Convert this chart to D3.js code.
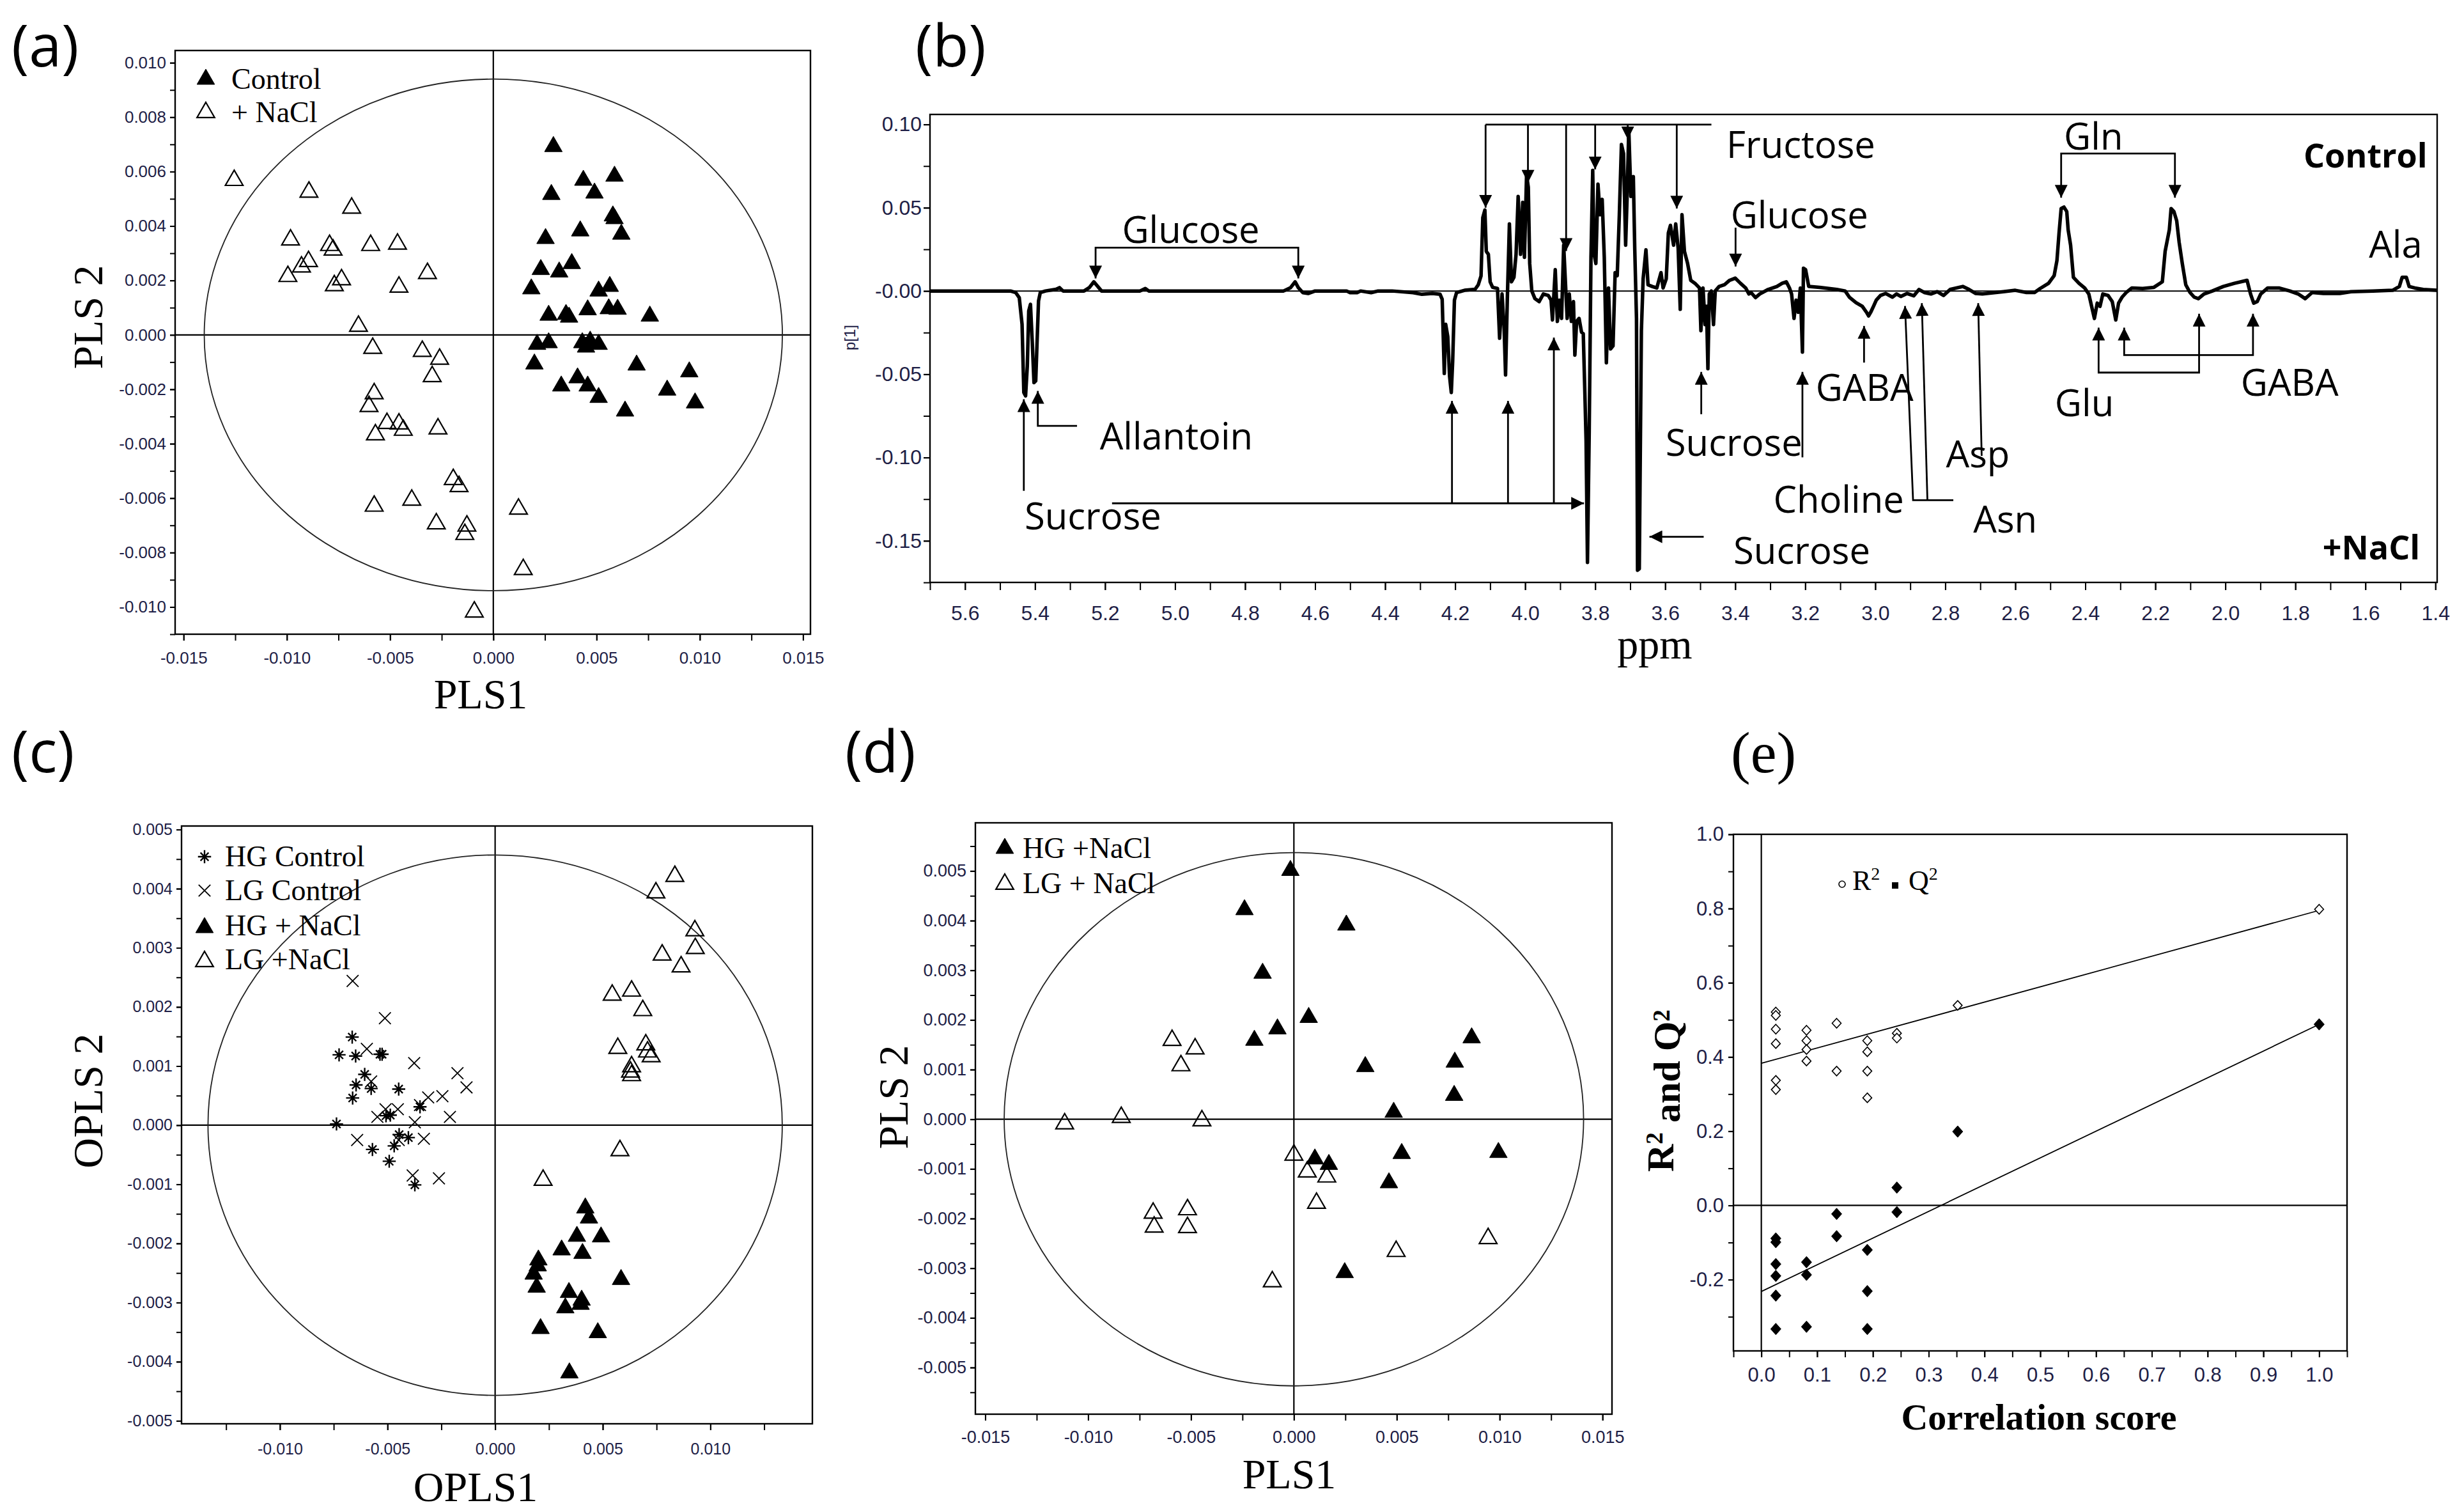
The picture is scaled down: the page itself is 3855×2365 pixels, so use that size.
<!DOCTYPE html>
<html>
<head>
<meta charset="utf-8">
<script src="https://cdn.jsdelivr.net/npm/d3@7"></script>
<style>
  body { margin: 0; background: #fff; }
  svg { display: block; }
</style>
</head>
<body>
<script>
'use strict';

/*
 * Data
 */

// (a) PLS scores
var aControl = [
  [0.00291, 0.00692], [0.00436, 0.00568], [0.00587, 0.00583], [0.00281, 0.00516], [0.0049, 0.00521],
  [0.00579, 0.00437], [0.00587, 0.00427], [0.00421, 0.00382], [0.0062, 0.0037], [0.00253, 0.00354],
  [0.0023, 0.0024], [0.0038, 0.00262], [0.00319, 0.00231], [0.00184, 0.00169], [0.0051, 0.00161],
  [0.00564, 0.00178], [0.00268, 0.00072], [0.00352, 0.00075], [0.00367, 0.00065], [0.00457, 0.00092],
  [0.00559, 0.00096], [0.00602, 0.00094], [0.00758, 0.00069], [0.00212, -0.00035], [0.00268, -0.00029],
  [0.00431, -0.00029], [0.00469, -0.00023], [0.00449, -0.00045], [0.0051, -0.00035], [0.00199, -0.00107],
  [0.00408, -0.00158], [0.00329, -0.00188], [0.00457, -0.00188], [0.0051, -0.0023], [0.00694, -0.00111],
  [0.00638, -0.0028], [0.00842, -0.00203], [0.00949, -0.00136], [0.00977, -0.0025]
];
var aNaCl = [
  [-0.01255, 0.00568], [-0.00893, 0.00525], [-0.00686, 0.00466], [-0.00982, 0.00349], [-0.00793, 0.00329],
  [-0.00776, 0.00312], [-0.00594, 0.00329], [-0.00464, 0.00334], [-0.00895, 0.0027], [-0.00929, 0.0025],
  [-0.00995, 0.00215], [-0.00735, 0.00203], [-0.0077, 0.00181], [-0.00457, 0.00176], [-0.00319, 0.00226],
  [-0.00653, 0.00032], [-0.00584, -0.00049], [-0.00344, -0.0006], [-0.0026, -0.00089], [-0.00296, -0.00153],
  [-0.00577, -0.00216], [-0.00602, -0.00263], [-0.00515, -0.00325], [-0.00457, -0.00327], [-0.00436, -0.0035],
  [-0.00571, -0.00367], [-0.00268, -0.00345], [-0.00194, -0.00531], [-0.00166, -0.00557], [-0.00395, -0.00607],
  [-0.00577, -0.00629], [-0.00276, -0.00694], [-0.00128, -0.00702], [-0.00138, -0.00733], [0.00122, -0.0064],
  [0.00145, -0.00862], [-0.00092, -0.01018]
];
var aEllipse = [0.0140, 0.0094];
var aXTicks = [-0.015, -0.010, -0.005, 0, 0.005, 0.010, 0.015];
var aXLabels = ['-0.015', '-0.010', '-0.005', '0.000', '0.005', '0.010', '0.015'];
var aYTicks = [-0.010, -0.008, -0.006, -0.004, -0.002, 0, 0.002, 0.004, 0.006, 0.008, 0.010];
var aYLabels = ['-0.010', '-0.008', '-0.006', '-0.004', '-0.002', '0.000', '0.002', '0.004', '0.006', '0.008', '0.010'];

// (b) PLS loading p[1] vs ppm
var bSpectrum = [
  [5.70, 0], [5.47, 0], [5.455, -0.001], [5.445, -0.004], [5.437, -0.02], [5.432, -0.061], [5.427, -0.063],
  [5.422, -0.045], [5.418, -0.012], [5.413, -0.008], [5.408, -0.03], [5.403, -0.055], [5.398, -0.054],
  [5.394, -0.03], [5.39, -0.006], [5.385, -0.001], [5.37, 0], [5.34, 0.001], [5.33, 0.002], [5.32, 0],
  [5.26, 0], [5.245, 0.002], [5.232, 0.0055], [5.222, 0.003], [5.21, 0], [5.1, 0], [5.085, 0.0015],
  [5.075, 0], [4.69, 0], [4.67, 0.002], [4.657, 0.0055], [4.648, 0.002], [4.635, -0.001], [4.62, -0.0015],
  [4.6, 0], [4.51, 0], [4.5, -0.001], [4.48, -0.001], [4.47, 0], [4.44, -0.001], [4.42, 0], [4.38, 0],
  [4.32, -0.001], [4.295, -0.002], [4.265, -0.0015], [4.243, -0.002],
  [4.237, -0.005], [4.231, -0.0495], [4.227, -0.020], [4.221, -0.0275], [4.216, -0.051], [4.211, -0.061],
  [4.207, -0.042], [4.202, -0.0055], [4.196, -0.001], [4.173, 0.0004], [4.143, 0.001], [4.134, 0.0037],
  [4.126, 0.009], [4.121, 0.044], [4.115, 0.0486], [4.111, 0.0238], [4.105, 0.022], [4.1, 0.0055],
  [4.093, 0.0022], [4.079, 0.0015], [4.073, -0.0284], [4.066, -0.0018], [4.06, -0.0229], [4.056, -0.0504],
  [4.051, -0.0055], [4.045, 0.0403], [4.039, 0.0055], [4.032, 0.0082], [4.026, 0.022], [4.02, 0.0568],
  [4.013, 0.022], [4.007, 0.0532], [4.002, 0.0202], [3.996, 0.0697], [3.991, 0.0623], [3.987, 0.0165],
  [3.981, 0], [3.972, -0.0046], [3.96, -0.0064], [3.948, -0.0018], [3.934, -0.0027], [3.926, -0.0055],
  [3.922, -0.0174], [3.914, 0.0128], [3.908, -0.0183], [3.902, -0.0055], [3.896, -0.0165], [3.89, 0.0275],
  [3.885, 0.0055], [3.88, -0.0165], [3.874, -0.0018], [3.868, -0.0183], [3.862, -0.0064], [3.858, -0.0385],
  [3.853, -0.0183], [3.846, -0.0165], [3.839, -0.0247], [3.834, -0.0257], [3.83, -0.0568], [3.826, -0.0898],
  [3.822, -0.163], [3.817, -0.0843], [3.812, 0.0202], [3.807, 0.0724], [3.803, 0.022], [3.798, 0.0165],
  [3.792, 0.0642], [3.786, 0.0458], [3.78, 0.055], [3.774, 0.0202], [3.768, -0.0431], [3.762, 0.0018],
  [3.756, -0.0348], [3.749, -0.033], [3.743, 0.011], [3.737, 0.0092], [3.731, 0.0458], [3.725, 0.088],
  [3.719, 0.0825], [3.713, 0.0275], [3.709, 0.055], [3.704, 0.0972], [3.698, 0.0568], [3.691, 0.0687],
  [3.687, 0.0257], [3.682, -0.0165], [3.679, -0.1677], [3.674, -0.1668], [3.668, -0.0238], [3.663, 0.0073],
  [3.655, 0.0247], [3.649, 0.0037], [3.637, 0.0027], [3.624, 0.0018], [3.612, 0.011], [3.606, 0.0018],
  [3.597, 0.0073], [3.591, 0.0348], [3.585, 0.0394], [3.576, 0.0275], [3.57, 0.0403], [3.563, 0.0257],
  [3.557, -0.011], [3.552, 0.0458], [3.545, 0.0238], [3.536, 0.0165], [3.527, 0.0064], [3.515, 0.0046],
  [3.502, 0.0018],
  [3.498, -0.0238], [3.492, 0.0018], [3.486, -0.0202], [3.482, -0.0092], [3.478, -0.0467], [3.474, -0.0018],
  [3.468, 0], [3.462, -0.0202], [3.457, 0], [3.446, 0.0027], [3.431, 0.0037], [3.416, 0.0064], [3.4, 0.0077],
  [3.385, 0.0046], [3.37, 0.0018], [3.361, -0.0018], [3.355, -0.0009], [3.342, -0.004], [3.33, -0.0018],
  [3.306, 0.0009], [3.281, 0.0027], [3.266, 0.0046], [3.254, 0.0055], [3.245, 0.0018], [3.239, -0.0018],
  [3.232, -0.0165], [3.226, -0.0055], [3.22, -0.0128], [3.214, 0.0018], [3.208, -0.0367], [3.205, 0.0137],
  [3.199, 0.0128], [3.19, 0.0027], [3.159, 0.0022], [3.11, 0.0009], [3.086, 0], [3.074, -0.0037],
  [3.055, -0.007], [3.037, -0.0092], [3.025, -0.0128], [3.019, -0.015], [3.013, -0.0128], [3.005, -0.0092],
  [2.997, -0.0055], [2.985, -0.0027], [2.97, -0.0015], [2.951, -0.0037], [2.939, -0.0018], [2.927, -0.0033],
  [2.909, -0.0015], [2.89, -0.0029], [2.875, 0.0009], [2.86, -0.0009], [2.841, -0.0018], [2.823, -0.0004],
  [2.805, -0.0027], [2.786, 0.0009], [2.768, 0.0018], [2.75, 0.0027], [2.732, 0.0009], [2.713, -0.0015],
  [2.694, -0.0018], [2.664, -0.0011], [2.634, -0.0004], [2.6, 0.0004],
  [2.568, -0.0009], [2.545, -0.0009], [2.529, 0.0015], [2.505, 0.0046], [2.489, 0.0092], [2.481, 0.0183],
  [2.475, 0.0348], [2.469, 0.0495], [2.461, 0.0504], [2.453, 0.0477], [2.449, 0.0367], [2.442, 0.0275],
  [2.434, 0.0082], [2.418, 0.0046], [2.402, 0.0018], [2.39, -0.0018], [2.382, -0.0092], [2.374, -0.0165],
  [2.366, -0.0073], [2.358, -0.0092], [2.35, -0.0018], [2.335, -0.0027], [2.323, -0.0064], [2.313, -0.0174],
  [2.305, -0.0073], [2.295, -0.0037], [2.283, -0.0009], [2.267, 0.0018], [2.236, 0.0015], [2.204, 0.0022],
  [2.18, 0.0055], [2.172, 0.0238], [2.16, 0.0367], [2.155, 0.0495], [2.147, 0.0477], [2.139, 0.0422],
  [2.132, 0.0293], [2.123, 0.0165], [2.113, 0.0037], [2.101, -0.0009], [2.089, -0.0037], [2.077, -0.0046],
  [2.061, -0.0018], [2.037, 0], [2.006, 0.0027], [1.974, 0.0046], [1.938, 0.0064], [1.928, -0.0018],
  [1.919, -0.0073], [1.909, -0.0064], [1.899, -0.0018], [1.879, 0.0018], [1.847, 0.0018], [1.816, 0],
  [1.792, -0.0018], [1.772, -0.0046], [1.752, -0.0009], [1.72, -0.0015], [1.673, -0.0015], [1.641, -0.0004],
  [1.578, 0], [1.522, 0.0004], [1.503, 0.0027], [1.495, 0.0082], [1.483, 0.0082], [1.475, 0.0027],
  [1.459, 0.0018], [1.435, 0.0009], [1.396, 0.0004]
];
var bXTicks = [5.6, 5.4, 5.2, 5.0, 4.8, 4.6, 4.4, 4.2, 4.0, 3.8, 3.6, 3.4, 3.2, 3.0, 2.8, 2.6, 2.4, 2.2, 2.0, 1.8, 1.6, 1.4];
var bXLabels = ['5.6', '5.4', '5.2', '5.0', '4.8', '4.6', '4.4', '4.2', '4.0', '3.8', '3.6', '3.4', '3.2', '3.0',
  '2.8', '2.6', '2.4', '2.2', '2.0', '1.8', '1.6', '1.4'];
var bYTicks = [0.10, 0.05, 0, -0.05, -0.10, -0.15];
var bYLabels = ['0.10', '0.05', '-0.00', '-0.05', '-0.10', '-0.15'];

// (b) metabolite annotations: [ppm, p[1]] anchors
var bLabels = [
  { text: 'Glucose', at: [4.955, 0.029], anchor: 'middle' },
  { text: 'Allantoin', at: [5.215, -0.095], anchor: 'start' },
  { text: 'Sucrose', at: [5.43, -0.143], anchor: 'start' },
  { text: 'Fructose', at: [3.425, 0.080], anchor: 'start' },
  { text: 'Glucose', at: [3.413, 0.0376], anchor: 'start' },
  { text: 'Sucrose', at: [3.599, -0.099], anchor: 'start' },
  { text: 'GABA', at: [3.17, -0.066], anchor: 'start' },
  { text: 'Choline', at: [2.918, -0.133], anchor: 'end' },
  { text: 'Asn', at: [2.72, -0.145], anchor: 'start' },
  { text: 'Asp', at: [2.798, -0.106], anchor: 'start' },
  { text: 'Sucrose', at: [3.405, -0.164], anchor: 'start' },
  { text: 'Gln', at: [2.461, 0.085], anchor: 'start' },
  { text: 'Glu', at: [2.487, -0.075], anchor: 'start' },
  { text: 'GABA', at: [1.956, -0.063], anchor: 'start' },
  { text: 'Ala', at: [1.59, 0.020], anchor: 'start' },
  { text: 'Control', at: [1.423, 0.074], anchor: 'end', bold: true },
  { text: '+NaCl', at: [1.444, -0.161], anchor: 'end', bold: true }
];
// head: 'end' | 'both' | 'none'
var bArrows = [
  { pts: [[5.227, 0.0075], [5.227, 0.026], [4.648, 0.026], [4.648, 0.0075]], head: 'both' },
  { pts: [[5.28, -0.081], [5.392, -0.081], [5.392, -0.060]], head: 'end' },
  { pts: [[5.432, -0.120], [5.432, -0.065]], head: 'end' },
  { pts: [[5.18, -0.1275], [3.832, -0.1275]], head: 'end' },
  { pts: [[4.209, -0.1275], [4.209, -0.066]], head: 'end' },
  { pts: [[4.049, -0.1275], [4.049, -0.066]], head: 'end' },
  { pts: [[3.918, -0.1275], [3.918, -0.028]], head: 'end' },
  { pts: [[4.113, 0.0999], [3.468, 0.0999]], head: 'none' },
  { pts: [[4.113, 0.0999], [4.113, 0.050]], head: 'end' },
  { pts: [[3.992, 0.0999], [3.992, 0.065]], head: 'end' },
  { pts: [[3.883, 0.0999], [3.883, 0.024]], head: 'end' },
  { pts: [[3.800, 0.0999], [3.800, 0.073]], head: 'end' },
  { pts: [[3.707, 0.0999], [3.707, 0.091]], head: 'end' },
  { pts: [[3.567, 0.0999], [3.567, 0.0495]], head: 'end' },
  { pts: [[3.399, 0.038], [3.399, 0.0147]], head: 'end' },
  { pts: [[3.497, -0.074], [3.497, -0.0486]], head: 'end' },
  { pts: [[3.208, -0.0999], [3.208, -0.0486]], head: 'end' },
  { pts: [[3.032, -0.043], [3.032, -0.021]], head: 'end' },
  { pts: [[2.777, -0.1256], [2.892, -0.1256], [2.915, -0.009]], head: 'end' },
  { pts: [[2.851, -0.1256], [2.867, -0.0073]], head: 'end' },
  { pts: [[2.696, -0.099], [2.706, -0.0073]], head: 'end' },
  { pts: [[3.49, -0.1476], [3.645, -0.1476]], head: 'end' },
  { pts: [[2.469, 0.056], [2.469, 0.0825], [2.144, 0.0825], [2.144, 0.056]], head: 'both' },
  { pts: [[2.362, -0.022], [2.362, -0.049], [2.075, -0.049], [2.075, -0.0137]], head: 'both' },
  { pts: [[2.289, -0.022], [2.289, -0.0385], [1.921, -0.0385], [1.921, -0.0137]], head: 'both' }
];

// (c) OPLS scores
var cHGControl = [
  [-0.00664, 0.00149], [-0.00725, 0.00119], [-0.00648, 0.00117], [-0.00535, 0.0012], [-0.00525, 0.0012],
  [-0.00606, 0.00086], [-0.00646, 0.00068], [-0.00576, 0.00062], [-0.00662, 0.00046], [-0.00448, 0.00061],
  [-0.00507, 0.00016], [-0.00487, 0.00017], [-0.00737, 0.00002], [-0.00446, -0.00016], [-0.00403, -0.00021],
  [-0.00469, -0.00035], [-0.0057, -0.00041], [-0.00492, -0.00061], [-0.00373, -0.00101], [-0.00349, 0.00031]
];
var cLGControl = [
  [-0.00662, 0.00244], [-0.00512, 0.00181], [-0.00596, 0.00129], [-0.00576, 0.00074], [-0.00376, 0.00105],
  [-0.00175, 0.00088], [-0.00133, 0.00064], [-0.00311, 0.00047], [-0.00245, 0.00049], [-0.00349, 0.00034],
  [-0.00509, 0.00027], [-0.00452, 0.00027], [-0.00547, 0.00014], [-0.00373, 0.00005], [-0.0021, 0.00014],
  [-0.00641, -0.00025], [-0.00331, -0.00023], [-0.00448, -0.00025], [-0.00383, -0.00085], [-0.00261, -0.0009]
];
var cHGNaCl = [
  [0.00419, -0.0014], [0.00436, -0.00157], [0.0038, -0.00188], [0.00492, -0.00189], [0.00309, -0.00211],
  [0.00406, -0.00217], [0.00201, -0.00228], [0.00198, -0.00238], [0.00179, -0.00252], [0.00585, -0.00261],
  [0.00193, -0.00274], [0.00343, -0.00283], [0.00402, -0.00296], [0.00397, -0.00303], [0.00326, -0.00309],
  [0.00211, -0.00344], [0.00477, -0.00351], [0.00345, -0.00419]
];
var cLGNaCl = [
  [0.00835, 0.00421], [0.00747, 0.00393], [0.00928, 0.00329], [0.0093, 0.00299], [0.00776, 0.00288],
  [0.00864, 0.00268], [0.00544, 0.0022], [0.00634, 0.00227], [0.00686, 0.00194], [0.0057, 0.0013],
  [0.007, 0.00136], [0.00708, 0.00124], [0.00725, 0.00116], [0.00634, 0.00099], [0.00629, 0.0009],
  [0.00634, 0.00084], [0.0058, -0.00043], [0.00223, -0.00093]
];
var cEllipse = [0.01334, 0.00457];
var cXTicks = [-0.010, -0.005, 0, 0.005, 0.010];
var cXLabels = ['-0.010', '-0.005', '0.000', '0.005', '0.010'];
var cYTicks = [-0.005, -0.004, -0.003, -0.002, -0.001, 0, 0.001, 0.002, 0.003, 0.004, 0.005];
var cYLabels = ['-0.005', '-0.004', '-0.003', '-0.002', '-0.001', '0.000', '0.001', '0.002', '0.003', '0.004', '0.005'];

// (d) PLS scores, +NaCl only
var dHGNaCl = [
  [-0.00017, 0.00501], [-0.0024, 0.00422], [0.00255, 0.00391], [-0.00152, 0.00294], [0.00072, 0.00205],
  [-0.0008, 0.00182], [-0.00192, 0.00159], [0.00864, 0.00164], [0.00782, 0.00115], [0.00347, 0.00106],
  [0.00779, 0.00048], [0.00485, 0.00014], [0.00524, -0.00069], [0.00994, -0.00067], [0.00102, -0.0008],
  [0.0017, -0.00091], [0.00462, -0.00128], [0.00247, -0.00309]
];
var dLGNaCl = [
  [-0.00592, 0.00159], [-0.0048, 0.00142], [-0.00549, 0.00108], [-0.01114, -0.00009], [-0.00839, 0.00004],
  [-0.00447, -0.00003], [0.0, -0.00072], [0.00065, -0.00106], [0.0016, -0.00116], [0.0011, -0.00169],
  [-0.00684, -0.00189], [-0.00679, -0.00217], [-0.00517, -0.00182], [-0.00517, -0.00218], [0.00944, -0.0024],
  [0.00497, -0.00266], [-0.00105, -0.00327]
];
var dEllipse = [0.01408, 0.00537];
var dXTicks = aXTicks;
var dXLabels = aXLabels;
var dYTicks = cYTicks;
var dYLabels = cYLabels;

// (e) permutation test
var eR2 = [
  [0.026, 0.521], [0.026, 0.512], [0.026, 0.475], [0.026, 0.436], [0.026, 0.337], [0.026, 0.312],
  [0.081, 0.472], [0.081, 0.444], [0.081, 0.42], [0.081, 0.389],
  [0.135, 0.491], [0.135, 0.362],
  [0.19, 0.444], [0.19, 0.414], [0.19, 0.362], [0.19, 0.29],
  [0.243, 0.464], [0.243, 0.451],
  [0.352, 0.539], [1.0, 0.798]
];
var eQ2 = [
  [0.026, -0.089], [0.026, -0.099], [0.026, -0.158], [0.026, -0.19], [0.026, -0.243], [0.026, -0.333],
  [0.081, -0.153], [0.081, -0.187], [0.081, -0.327],
  [0.135, -0.023], [0.135, -0.083],
  [0.19, -0.12], [0.19, -0.231], [0.19, -0.333],
  [0.243, 0.048], [0.243, -0.018],
  [0.352, 0.199], [1.0, 0.488]
];
var eR2Line = [[0, 0.383], [1.0, 0.795]];
var eQ2Line = [[0, -0.232], [1.0, 0.488]];
var eXTicks = [0, 0.1, 0.2, 0.3, 0.4, 0.5, 0.6, 0.7, 0.8, 0.9, 1.0];
var eXLabels = ['0.0', '0.1', '0.2', '0.3', '0.4', '0.5', '0.6', '0.7', '0.8', '0.9', '1.0'];
var eYTicks = [1.0, 0.8, 0.6, 0.4, 0.2, 0, -0.2];
var eYLabels = ['1.0', '0.8', '0.6', '0.4', '0.2', '0.0', '-0.2'];


/*
 * Look
 */
var SANS = "'Liberation Sans', Arial, sans-serif";
var SERIF = "'Liberation Serif', 'Times New Roman', serif";
var LABEL = "'Open Sans', 'DejaVu Sans', sans-serif";
var TICKCOL = '#1e1e46';

var svg = d3.select('body').append('svg')
  .attr('width', 3855).attr('height', 2365)
  .attr('viewBox', '0 0 3855 2365');

svg.append('rect').attr('width', 3855).attr('height', 2365).attr('fill', '#fff');

svg.append('defs').append('marker')
  .attr('id', 'arrow')
  .attr('viewBox', '0 0 10 10')
  .attr('refX', 10).attr('refY', 5)
  .attr('markerWidth', 22).attr('markerHeight', 20)
  .attr('markerUnits', 'userSpaceOnUse')
  .attr('orient', 'auto-start-reverse')
  .append('path').attr('d', 'M0,0 L10,5 L0,10 Z').attr('fill', '#000');

// custom marker shapes
var star = {
  draw: function (ctx, size) {
    var r = Math.sqrt(size) / 2, d = r * 0.62;
    ctx.moveTo(-r, 0); ctx.lineTo(r, 0);
    ctx.moveTo(0, -r); ctx.lineTo(0, r);
    ctx.moveTo(-d, -d); ctx.lineTo(d, d);
    ctx.moveTo(-d, d); ctx.lineTo(d, -d);
  }
};
var cross = {
  draw: function (ctx, size) {
    var r = Math.sqrt(size) / 2;
    ctx.moveTo(-r, -r); ctx.lineTo(r, r);
    ctx.moveTo(-r, r); ctx.lineTo(r, -r);
  }
};
function rhombus(w, h) {
  return {
    draw: function (ctx) {
      ctx.moveTo(0, -h / 2); ctx.lineTo(w / 2, 0); ctx.lineTo(0, h / 2); ctx.lineTo(-w / 2, 0); ctx.closePath();
    }
  };
}

var FILLED_TRI = { type: d3.symbolTriangle, size: 330, fill: '#000', stroke: '#000', sw: 1 };
var OPEN_TRI = { type: d3.symbolTriangle, size: 330, fill: 'none', stroke: '#000', sw: 2.2 };
var STAR = { type: star, size: 420, fill: 'none', stroke: '#000', sw: 2.4 };
var CROSS = { type: cross, size: 340, fill: 'none', stroke: '#000', sw: 1.8 };


/*
 * Helpers
 */
function panelLetter(text, x, y, font) {
  svg.append('text').attr('x', x).attr('y', y)
    .attr('font-family', font || LABEL).attr('font-size', 92)
    .text(text);
}

function axisTitle(text, x, y, rotate, opts) {
  opts = opts || {};
  var t = svg.append('text')
    .attr('transform', 'translate(' + x + ',' + y + ')' + (rotate ? ' rotate(-90)' : ''))
    .attr('text-anchor', 'middle')
    .attr('font-family', opts.font || SERIF)
    .attr('font-size', opts.size || 66)
    .attr('font-weight', opts.bold ? 'bold' : 'normal');
  if (opts.parts) {
    opts.parts.forEach(function (p) {
      t.append('tspan').attr('dy', p.sup ? '-0.45em' : (p.after ? '0.45em' : null))
        .attr('font-size', p.sup ? '0.62em' : null).text(p.t);
    });
  } else {
    t.text(text);
  }
  return t;
}

function drawAxis(g, axis, tr, size) {
  var a = g.append('g').attr('transform', tr).call(axis);
  a.select('.domain').remove();
  a.selectAll('line').attr('stroke', '#000').attr('stroke-width', 2);
  a.selectAll('text').attr('font-family', SANS).attr('font-size', size).attr('fill', TICKCOL);
  return a;
}

function frame(g, x, y) {
  g.append('rect')
    .attr('x', x.range()[0]).attr('y', y.range()[0])
    .attr('width', x.range()[1] - x.range()[0]).attr('height', y.range()[1] - y.range()[0])
    .attr('fill', 'none').attr('stroke', '#000').attr('stroke-width', 2.4);
}

function zeroLines(g, x, y, w) {
  g.append('line').attr('x1', x(0)).attr('x2', x(0)).attr('y1', y.range()[0]).attr('y2', y.range()[1])
    .attr('stroke', '#000').attr('stroke-width', w || 2.2);
  g.append('line').attr('x1', x.range()[0]).attr('x2', x.range()[1]).attr('y1', y(0)).attr('y2', y(0))
    .attr('stroke', '#000').attr('stroke-width', w || 2.2);
}

function points(g, data, x, y, st) {
  var sym = d3.symbol().type(st.type).size(st.size);
  g.selectAll(null).data(data).enter().append('path')
    .attr('transform', function (d) { return 'translate(' + x(d[0]) + ',' + y(d[1]) + ')'; })
    .attr('d', sym)
    .attr('fill', st.fill).attr('stroke', st.stroke).attr('stroke-width', st.sw);
}

function legend(g, items, mx, tx, size) {
  items.forEach(function (it) {
    var sym = d3.symbol().type(it.st.type).size(it.st.size);
    g.append('path').attr('transform', 'translate(' + mx + ',' + it.y + ')').attr('d', sym)
      .attr('fill', it.st.fill).attr('stroke', it.st.stroke).attr('stroke-width', it.st.sw);
    g.append('text').attr('x', tx).attr('y', it.base)
      .attr('font-family', SERIF).attr('font-size', size).text(it.text);
  });
}

/**
 * Score plot with confidence ellipse
 */
function scatterPanel(cfg) {
  var g = svg.append('g');
  var x = d3.scaleLinear().domain(cfg.xDomain).range(cfg.xRange);
  var y = d3.scaleLinear().domain(cfg.yDomain).range(cfg.yRange);

  // minor + major ticks
  drawAxis(g, d3.axisBottom(x).tickValues(cfg.xMinor).tickFormat('').tickSize(10),
    'translate(0,' + cfg.yRange[1] + ')', cfg.font);
  drawAxis(g, d3.axisBottom(x).tickValues(cfg.xTicks).tickFormat(function (d, i) { return cfg.xLabels[i]; })
    .tickSize(10).tickPadding(cfg.xPad), 'translate(0,' + cfg.yRange[1] + ')', cfg.font);
  drawAxis(g, d3.axisLeft(y).tickValues(cfg.yMinor).tickFormat('').tickSize(8),
    'translate(' + cfg.xRange[0] + ',0)', cfg.font);
  drawAxis(g, d3.axisLeft(y).tickValues(cfg.yTicks).tickFormat(function (d, i) { return cfg.yLabels[i]; })
    .tickSize(8).tickPadding(6), 'translate(' + cfg.xRange[0] + ',0)', cfg.font);

  frame(g, x, y);
  zeroLines(g, x, y);

  g.append('ellipse')
    .attr('cx', x(0)).attr('cy', y(0))
    .attr('rx', x(cfg.ellipse[0]) - x(0)).attr('ry', y(0) - y(cfg.ellipse[1]))
    .attr('fill', 'none').attr('stroke', '#222').attr('stroke-width', 1.8);

  cfg.series.forEach(function (s) { points(g, s.data, x, y, s.st); });
  legend(g, cfg.legend, cfg.legendX[0], cfg.legendX[1], 46);
  return g;
}

function range(a, b, step) {
  var n = Math.round((b - a) / step);
  return d3.range(n + 1).map(function (i) { return +(a + i * step).toFixed(6); });
}


/*
 * (a)
 */
panelLetter('(a)', 18, 104);
scatterPanel({
  xDomain: [-0.01541, 0.01536], xRange: [274, 1268],
  yDomain: [0.01045, -0.0110], yRange: [79, 992],
  xTicks: aXTicks, xLabels: aXLabels, xMinor: range(-0.015, 0.015, 0.0025), xPad: 18,
  yTicks: aYTicks, yLabels: aYLabels, yMinor: range(-0.011, 0.010, 0.001),
  font: 26, ellipse: aEllipse,
  series: [{ data: aNaCl, st: OPEN_TRI }, { data: aControl, st: FILLED_TRI }],
  legendX: [322, 362],
  legend: [
    { st: FILLED_TRI, y: 124, base: 139, text: 'Control' },
    { st: OPEN_TRI, y: 176, base: 191, text: '+ NaCl' }
  ]
});
axisTitle('PLS 2', 160, 496, true);
axisTitle('PLS1', 752, 1108, false);


/*
 * (b) loading line plot
 */
(function spectrumPanel() {
  var g = svg.append('g');
  var x = d3.scaleLinear().domain([5.70, 1.395]).range([1455, 3813]);
  var y = d3.scaleLinear().domain([0.106, -0.175]).range([179, 911]);

  drawAxis(g, d3.axisBottom(x).tickValues(range(1.4, 5.7, 0.1)).tickFormat('').tickSize(12),
    'translate(0,911)', 32);
  drawAxis(g, d3.axisBottom(x).tickValues(bXTicks).tickFormat(function (d, i) { return bXLabels[i]; })
    .tickSize(12).tickPadding(24), 'translate(0,911)', 32);
  drawAxis(g, d3.axisLeft(y).tickValues(range(-0.175, 0.1, 0.025)).tickFormat('').tickSize(10),
    'translate(1455,0)', 32);
  drawAxis(g, d3.axisLeft(y).tickValues(bYTicks).tickFormat(function (d, i) { return bYLabels[i]; })
    .tickSize(10).tickPadding(3), 'translate(1455,0)', 32);

  frame(g, x, y);
  g.append('line').attr('x1', 1455).attr('x2', 3813).attr('y1', y(0)).attr('y2', y(0))
    .attr('stroke', '#000').attr('stroke-width', 2);

  var line = d3.line().x(function (d) { return x(d[0]); }).y(function (d) { return y(d[1]); });
  g.append('path').datum(bSpectrum).attr('d', line)
    .attr('fill', 'none').attr('stroke', '#000').attr('stroke-width', 5.5).attr('stroke-linejoin', 'round');

  // annotations
  bArrows.forEach(function (a) {
    var p = g.append('path').datum(a.pts).attr('d', line)
      .attr('fill', 'none').attr('stroke', '#000').attr('stroke-width', 2.8);
    if (a.head !== 'none') p.attr('marker-end', 'url(#arrow)');
    if (a.head === 'both') p.attr('marker-start', 'url(#arrow)');
  });
  bLabels.forEach(function (l) {
    g.append('text').attr('x', x(l.at[0])).attr('y', y(l.at[1]))
      .attr('text-anchor', l.anchor)
      .attr('font-family', LABEL)
      .attr('font-size', l.bold ? 52 : 58)
      .attr('font-weight', l.bold ? 'bold' : 'normal')
      .text(l.text);
  });

  g.append('text').attr('transform', 'translate(1338,528) rotate(-90)')
    .attr('text-anchor', 'middle').attr('font-family', SANS).attr('font-size', 24).attr('fill', TICKCOL)
    .text('p[1]');
})();
panelLetter('(b)', 1432, 104);
axisTitle('ppm', 2589, 1030, false);


/*
 * (c)
 */
panelLetter('(c)', 18, 1208);
scatterPanel({
  xDomain: [-0.01457, 0.01474], xRange: [284, 1271],
  yDomain: [0.00506, -0.00505], yRange: [1292, 2227],
  xTicks: cXTicks, xLabels: cXLabels, xMinor: range(-0.0125, 0.0125, 0.0025), xPad: 20,
  yTicks: cYTicks, yLabels: cYLabels, yMinor: range(-0.005, 0.005, 0.0005),
  font: 25, ellipse: cEllipse,
  series: [
    { data: cLGControl, st: CROSS }, { data: cHGControl, st: STAR },
    { data: cHGNaCl, st: FILLED_TRI }, { data: cLGNaCl, st: OPEN_TRI }
  ],
  legendX: [320, 352],
  legend: [
    { st: STAR, y: 1340, base: 1355, text: 'HG Control' },
    { st: CROSS, y: 1393, base: 1408, text: 'LG Control' },
    { st: FILLED_TRI, y: 1451, base: 1463, text: 'HG + NaCl' },
    { st: OPEN_TRI, y: 1504, base: 1516, text: 'LG +NaCl' }
  ]
});
axisTitle('OPLS 2', 160, 1722, true);
axisTitle('OPLS1', 744, 2348, false);


/*
 * (d)
 */
panelLetter('(d)', 1322, 1208);
scatterPanel({
  xDomain: [-0.01548, 0.01546], xRange: [1526, 2522],
  yDomain: [0.00597, -0.00594], yRange: [1287, 2212],
  xTicks: dXTicks, xLabels: dXLabels, xMinor: range(-0.015, 0.015, 0.0025), xPad: 16,
  yTicks: dYTicks, yLabels: dYLabels, yMinor: range(-0.0055, 0.0055, 0.0005),
  font: 27, ellipse: dEllipse,
  series: [{ data: dLGNaCl, st: OPEN_TRI }, { data: dHGNaCl, st: FILLED_TRI }],
  legendX: [1572, 1600],
  legend: [
    { st: FILLED_TRI, y: 1327, base: 1342, text: 'HG +NaCl' },
    { st: OPEN_TRI, y: 1383, base: 1397, text: 'LG + NaCl' }
  ]
});
axisTitle('PLS 2', 1420, 1716, true);
axisTitle('PLS1', 2017, 2328, false);


/*
 * (e) permutation plot
 */
(function permutationPanel() {
  var g = svg.append('g');
  var x = d3.scaleLinear().domain([-0.05, 1.05]).range([2712, 3672]);
  var y = d3.scaleLinear().domain([1.0, -0.392]).range([1305, 2113]);

  drawAxis(g, d3.axisBottom(x).tickValues(range(-0.05, 1.05, 0.05)).tickFormat('').tickSize(10),
    'translate(0,2113)', 31);
  drawAxis(g, d3.axisBottom(x).tickValues(eXTicks).tickFormat(function (d, i) { return eXLabels[i]; })
    .tickSize(10).tickPadding(16), 'translate(0,2113)', 31);
  drawAxis(g, d3.axisLeft(y).tickValues(range(-0.3, 1.0, 0.1)).tickFormat('').tickSize(8),
    'translate(2712,0)', 31);
  drawAxis(g, d3.axisLeft(y).tickValues(eYTicks).tickFormat(function (d, i) { return eYLabels[i]; })
    .tickSize(8).tickPadding(7), 'translate(2712,0)', 31);

  frame(g, x, y);
  zeroLines(g, x, y, 2.2);

  var line = d3.line().x(function (d) { return x(d[0]); }).y(function (d) { return y(d[1]); });
  [eR2Line, eQ2Line].forEach(function (l) {
    g.append('path').datum(l).attr('d', line).attr('fill', 'none')
      .attr('stroke', '#000').attr('stroke-width', 1.8);
  });

  points(g, eR2, x, y, { type: rhombus(14, 15), size: 1, fill: '#fff', stroke: '#000', sw: 1.6 });
  points(g, eQ2, x, y, { type: rhombus(16, 18), size: 1, fill: '#000', stroke: '#000', sw: 1 });

  // legend: o R2 . Q2
  g.append('circle').attr('cx', 2882).attr('cy', 1383).attr('r', 5)
    .attr('fill', 'none').attr('stroke', '#000').attr('stroke-width', 1.6);
  var t1 = g.append('text').attr('x', 2898).attr('y', 1392).attr('font-family', SERIF).attr('font-size', 44);
  t1.append('tspan').text('R');
  t1.append('tspan').attr('dy', -16).attr('font-size', 28).text('2');
  g.append('rect').attr('x', 2960).attr('y', 1380).attr('width', 10).attr('height', 10).attr('fill', '#000');
  var t2 = g.append('text').attr('x', 2986).attr('y', 1392).attr('font-family', SERIF).attr('font-size', 44);
  t2.append('tspan').text('Q');
  t2.append('tspan').attr('dy', -16).attr('font-size', 28).text('2');
})();
panelLetter('(e)', 2708, 1208, SERIF);
axisTitle(null, 2618, 1706, true, {
  bold: true, size: 60,
  parts: [{ t: 'R' }, { t: '2', sup: true }, { t: ' and Q', after: true }, { t: '2', sup: true }]
});
axisTitle('Correlation score', 3190, 2236, false, { bold: true, size: 58 });
</script>
</body>
</html>
